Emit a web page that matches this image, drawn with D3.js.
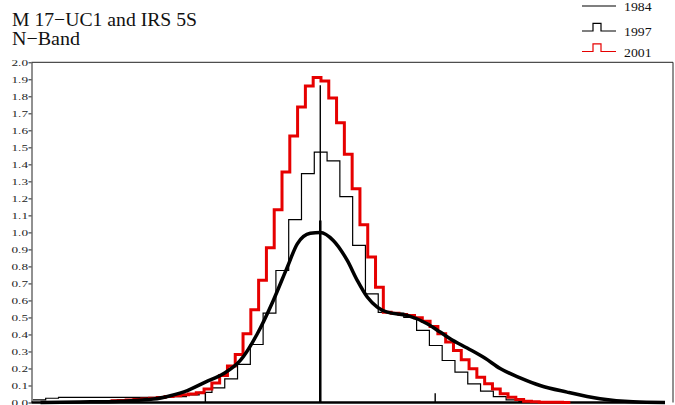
<!DOCTYPE html>
<html><head><meta charset="utf-8">
<script src="https://cdn.jsdelivr.net/npm/d3@7"></script>
<style>body{margin:0;background:#fff}svg{display:block}</style>
</head><body><svg id="c" width="675" height="405"></svg>
<script>
// ---------------- data ----------------
const titleLines = ["M 17\u2212UC1 and IRS 5S", "N\u2212Band"];
const legendLabels = ["1984", "1997", "2001"];
const yTickValues = [0.0,0.1,0.2,0.3,0.4,0.5,0.6,0.7,0.8,0.9,1.0,1.1,1.2,1.3,1.4,1.5,1.6,1.7,1.8,1.9,2.0];
const xDomain = [-28.9, 35.3];
const yDomain = [0, 2.0];

// 2001 histogram (bin start, bin width, values)
const bins2001Start = -20.99;
const bins2001Width = 0.78;
const values2001 = [0.01,0.012,0.015,0.018,0.02,0.025,0.03,0.035,0.04,0.045,0.05,0.058,0.08,0.114,0.159,0.214,0.282,0.404,0.545,0.718,0.91,1.133,1.355,1.566,1.737,1.86,1.91,
  1.89,1.79,1.645,1.46,1.257,1.045,0.855,0.678,0.531,0.525,0.518,0.512,0.498,0.478,0.447,0.404,0.355,0.306,0.251,0.198,0.149,0.11,0.08,0.051,0.031,0.018,0.008,0.004,0.002,0.001,0.001,0];

// 1997 histogram
const bins1997Start = -28.76;
const bins1997Width = 1.28;
const values1997 = [0.015,0.025,0.03,0.03,0.03,0.03,0.03,0.03,0.03,0.03,0.03,0.035,0.045,0.06,0.086,0.139,0.224,0.341,0.525,0.776,1.075,1.345,1.472,
  1.42,1.21,0.924,0.639,0.53,0.525,0.5,0.424,0.335,0.247,0.178,0.11,0.067,0.035,0.016,0.005,0];

// smooth profile
const fitX = [-28,-24,-20,-16.7,-15,-13.3,-11.5,-9.7,-8,-6.3,-4.7,-3.3,-2.3,-1,0,1.3,2.7,3.7,4.7,5.7,6.7,8.7,10.7,12,13,14.7,16.5,18,20,22,24.7,28,31.3,34.5];
const fitY = [0,0.003,0.008,0.02,0.04,0.07,0.12,0.169,0.247,0.404,0.6,0.796,0.933,0.995,1.0,0.953,0.835,0.718,0.62,0.561,0.531,0.512,0.463,0.414,0.375,0.32,0.26,0.2,0.145,0.1,0.061,0.022,0.004,0];
const fitPeakMarker = 1.07;

// 1984 spikes
const spikes1984X = [-11.5, 0, 11.5];
const spikes1984Y = [0.055, 1.865, 0.055];

// ---------------- drawing ----------------
const svg = d3.select("#c");
const plot = {left: 31.5, right: 673, top: 62.3, bottom: 402.5};
const x = d3.scaleLinear().domain(xDomain).range([plot.left, plot.right]);
const y = d3.scaleLinear().domain(yDomain).range([plot.bottom, plot.top]);
const serif = "'Liberation Serif','Times New Roman',serif";
const red = "#e60000";

// title
const titleWidths = [185, 68];
svg.append("g").selectAll("text").data(titleLines).join("text")
  .attr("x", 12).attr("y", (d, i) => 26 + i * 19)
  .attr("font-family", serif).attr("font-size", 19).attr("fill", "#111")
  .attr("textLength", (d, i) => titleWidths[i]).attr("lengthAdjust", "spacingAndGlyphs")
  .text(d => d);

// frame
svg.append("line").attr("x1", plot.left).attr("x2", plot.right).attr("y1", plot.top).attr("y2", plot.top)
  .attr("stroke", "#222").attr("stroke-width", 1);
svg.append("line").attr("x1", plot.right).attr("x2", plot.right).attr("y1", plot.top).attr("y2", plot.bottom)
  .attr("stroke", "#222").attr("stroke-width", 1);

// y axis
const yAxis = svg.append("g").attr("transform", `translate(${plot.left},0)`)
  .call(d3.axisLeft(y).tickValues(yTickValues).tickFormat(d3.format(".1f")).tickSize(3).tickSizeOuter(0));
yAxis.select(".domain").attr("stroke", "#222");
yAxis.selectAll(".tick line").attr("stroke", "#222");
yAxis.selectAll(".tick text").attr("font-family", serif).attr("font-size", 9).attr("fill", "#222")
  .attr("x", -3.5).attr("textLength", 16.5).attr("lengthAdjust", "spacingAndGlyphs");

// histogram builder
function stepPoints(start, width, values) {
  const pts = values.map((v, i) => [start + i * width, v]);
  pts.push([start + values.length * width, values[values.length - 1]]);
  return pts;
}
const stepLine = d3.line().x(d => x(d[0])).y(d => y(d[1])).curve(d3.curveStepAfter);

const g = svg.append("g");

// baseline
g.append("line").attr("x1", plot.left).attr("x2", x(33.5)).attr("y1", y(0)).attr("y2", y(0))
  .attr("stroke", "#000").attr("stroke-width", 2.5);

// 1997
g.append("path").datum(stepPoints(bins1997Start, bins1997Width, values1997))
  .attr("d", stepLine).attr("fill", "none").attr("stroke", "#000").attr("stroke-width", 1.2);

// 2001
g.append("path").datum(stepPoints(bins2001Start, bins2001Width, values2001))
  .attr("d", stepLine).attr("fill", "none").attr("stroke", red).attr("stroke-width", 3)
  .attr("stroke-linejoin", "miter");

// smooth profile
const fitData = fitX.map((v, i) => [v, fitY[i]]);
g.append("path").datum(fitData)
  .attr("d", d3.line().x(d => x(d[0])).y(d => y(d[1])).curve(d3.curveMonotoneX))
  .attr("fill", "none").attr("stroke", "#000").attr("stroke-width", 3.5);
g.append("line").attr("x1", x(0)).attr("x2", x(0)).attr("y1", y(0)).attr("y2", y(fitPeakMarker))
  .attr("stroke", "#000").attr("stroke-width", 2.5);

// 1984 spikes
g.selectAll(".spike").data(spikes1984X).join("line").attr("class", "spike")
  .attr("x1", d => x(d)).attr("x2", d => x(d))
  .attr("y1", y(0)).attr("y2", (d, i) => y(spikes1984Y[i]))
  .attr("stroke", "#000").attr("stroke-width", 1.4);

// legend
const legend = svg.append("g");
const lx0 = 582, lx1 = 616, bx0 = 593, bx1 = 601, bump = 7.7;
const legendY = [6, 31, 51.5];
const legendColors = ["#000", "#000", red];
legendLabels.forEach((lab, i) => {
  const ly = legendY[i];
  const d = i === 0
    ? `M${lx0},${ly}H${lx1}`
    : `M${lx0},${ly}H${bx0}V${ly - bump}H${bx1}V${ly}H${lx1}`;
  legend.append("path").attr("d", d).attr("fill", "none")
    .attr("stroke", legendColors[i]).attr("stroke-width", 1.2);
  legend.append("text").attr("x", 624).attr("y", ly + (i === 0 ? 4.5 : 5))
    .attr("font-family", serif).attr("font-size", 13).attr("fill", "#111")
    .attr("textLength", 27.5).attr("lengthAdjust", "spacingAndGlyphs").text(lab);
});
</script>
</body></html>
